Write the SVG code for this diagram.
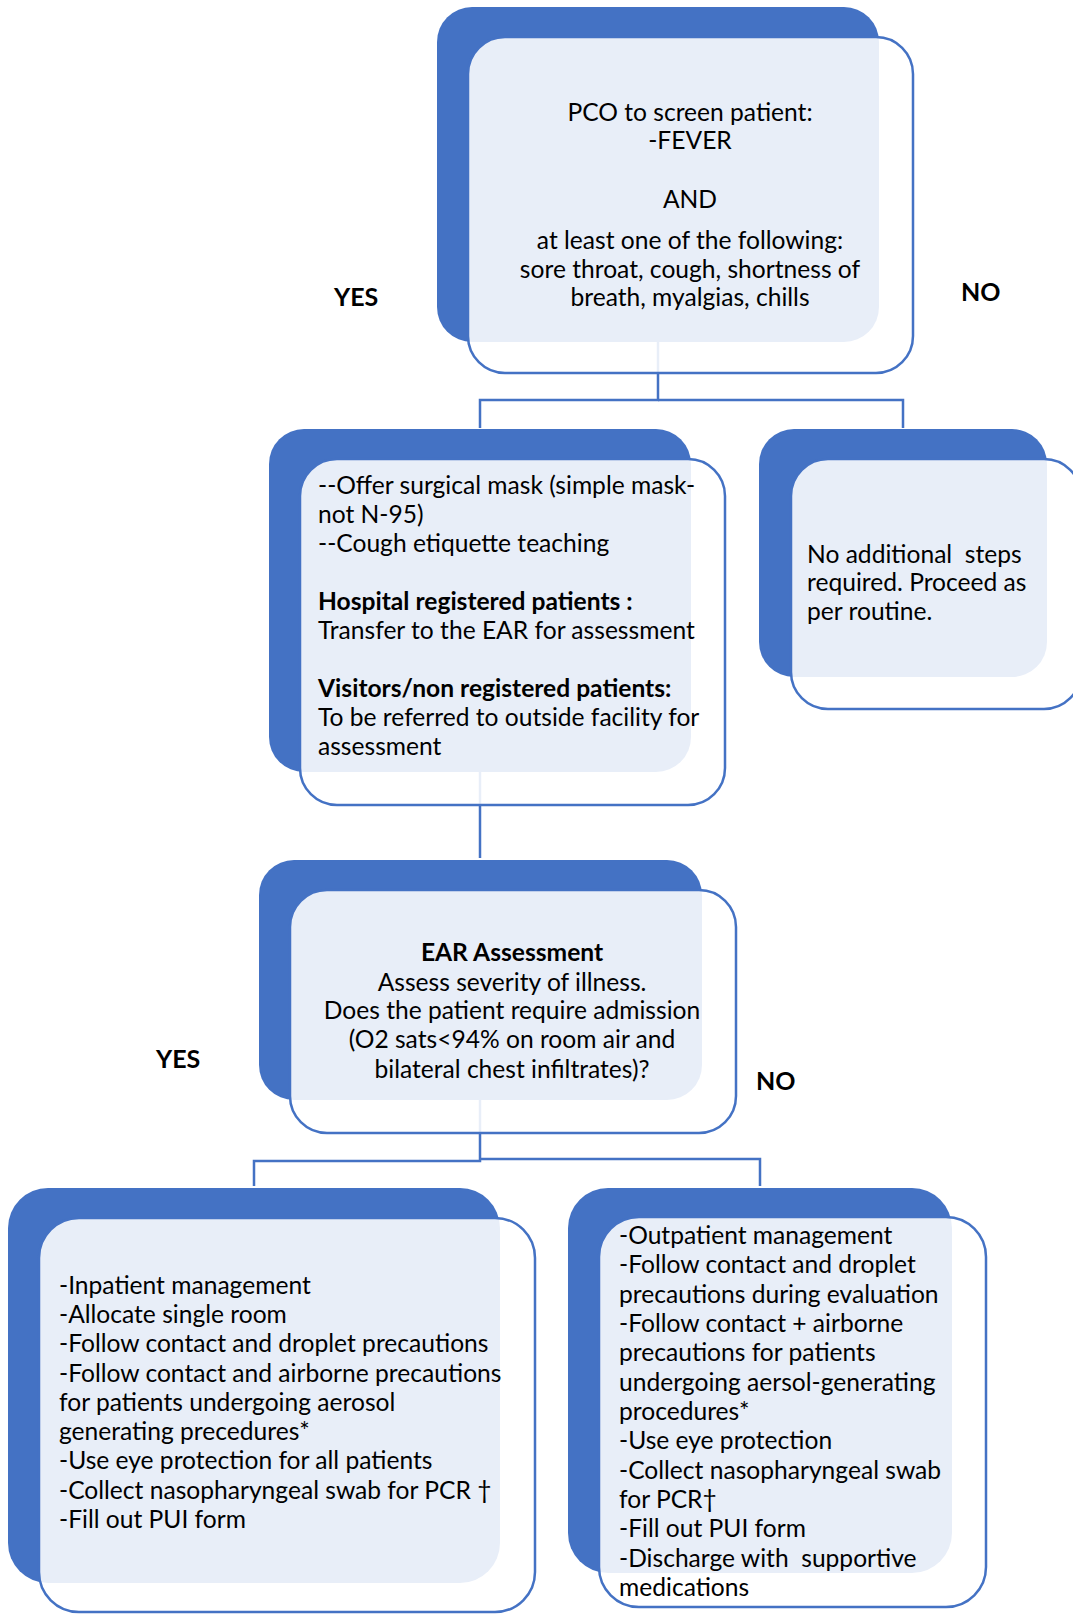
<svg xmlns="http://www.w3.org/2000/svg" width="1073" height="1615" viewBox="0 0 1073 1615">
<style>
.bg{fill:#4472C4}
.box{fill:#FFFFFF;fill-opacity:0.88;stroke:#4472C4;stroke-width:2.5}
.conn{fill:none;stroke:#4472C4;stroke-width:2.5}
.t{font-family:Lato,"Liberation Sans",sans-serif;font-size:24.6px;fill:#000;white-space:pre}
.c{text-anchor:middle}
.b{font-weight:bold}
.lbl{font-family:Lato,"Liberation Sans",sans-serif;font-size:25px;font-weight:bold;fill:#000}
</style>
<rect width="1073" height="1615" fill="#fff"/>
<g id="connectors">
<path class="conn" d="M658,190 V400 H480 V428"/>
<path class="conn" d="M658,400 H903 V428"/>
<path class="conn" d="M480,620 V858"/>
<path class="conn" d="M480,1000 V1161 H254 V1186"/>
<path class="conn" d="M480,1159 H760 V1186"/>
</g>
<g id="screen">
<rect class="bg" x="437" y="7" width="442" height="335" rx="35"/>
<rect class="box" x="468" y="37" width="445" height="336" rx="37"/>
<text class="t c" x="690" y="121">PCO to screen patient:</text>
<text class="t c" x="690" y="149">-FEVER</text>
<text class="t c" x="690" y="208">AND</text>
<text class="t c" x="690" y="249">at least one of the following:</text>
<text class="t c" x="690" y="278">sore throat, cough, shortness of</text>
<text class="t c" x="690" y="306">breath, myalgias, chills</text>
</g>
<g id="yes-mask">
<rect class="bg" x="269" y="429" width="422" height="343" rx="35"/>
<rect class="box" x="300" y="459" width="425" height="346" rx="37"/>
<text class="t" x="318" y="494">--Offer surgical mask (simple mask-</text>
<text class="t" x="318" y="523">not N-95)</text>
<text class="t" x="318" y="552">--Cough etiquette teaching</text>
<text class="t b" x="318" y="610">Hospital registered patients :</text>
<text class="t" x="318" y="639">Transfer to the EAR for assessment</text>
<text class="t b" x="318" y="697">Visitors/non registered patients:</text>
<text class="t" x="318" y="726">To be referred to outside facility for</text>
<text class="t" x="318" y="755">assessment</text>
</g>
<g id="no-steps">
<rect class="bg" x="759" y="429" width="288" height="248" rx="35"/>
<rect class="box" x="791" y="459" width="290" height="250" rx="37"/>
<text class="t" x="807" y="563">No additional  steps</text>
<text class="t" x="807" y="591">required. Proceed as</text>
<text class="t" x="807" y="620">per routine.</text>
</g>
<g id="ear">
<rect class="bg" x="259" y="860" width="443" height="240" rx="35"/>
<rect class="box" x="290" y="890" width="446" height="243" rx="37"/>
<text class="t c b" x="512" y="961">EAR Assessment</text>
<text class="t c" x="512" y="991">Assess severity of illness.</text>
<text class="t c" x="512" y="1019">Does the patient require admission</text>
<text class="t c" x="512" y="1048">(O2 sats&lt;94% on room air and</text>
<text class="t c" x="512" y="1078">bilateral chest infiltrates)?</text>
</g>
<g id="inpatient">
<rect class="bg" x="8" y="1188" width="492" height="395" rx="40"/>
<rect class="box" x="39" y="1218" width="496" height="394" rx="40"/>
<text class="t" x="59" y="1294">-Inpatient management</text>
<text class="t" x="59" y="1323">-Allocate single room</text>
<text class="t" x="59" y="1352">-Follow contact and droplet precautions</text>
<text class="t" x="59" y="1382">-Follow contact and airborne precautions</text>
<text class="t" x="59" y="1411">for patients undergoing aerosol</text>
<text class="t" x="59" y="1440">generating precedures*</text>
<text class="t" x="59" y="1469">-Use eye protection for all patients</text>
<text class="t" x="59" y="1499">-Collect nasopharyngeal swab for PCR †</text>
<text class="t" x="59" y="1528">-Fill out PUI form</text>
</g>
<g id="outpatient">
<rect class="bg" x="568" y="1188" width="384" height="385" rx="40"/>
<rect class="box" x="599" y="1217" width="387" height="390" rx="40"/>
<text class="t" x="619" y="1244">-Outpatient management</text>
<text class="t" x="619" y="1273">-Follow contact and droplet</text>
<text class="t" x="619" y="1303">precautions during evaluation</text>
<text class="t" x="619" y="1332">-Follow contact + airborne</text>
<text class="t" x="619" y="1361">precautions for patients</text>
<text class="t" x="619" y="1391">undergoing aersol-generating</text>
<text class="t" x="619" y="1420">procedures*</text>
<text class="t" x="619" y="1449">-Use eye protection</text>
<text class="t" x="619" y="1479">-Collect nasopharyngeal swab</text>
<text class="t" x="619" y="1508">for PCR†</text>
<text class="t" x="619" y="1537">-Fill out PUI form</text>
<text class="t" x="619" y="1567">-Discharge with  supportive</text>
<text class="t" x="619" y="1596">medications</text>
</g>
<g id="labels">
<text class="lbl" x="334" y="306">YES</text>
<text class="lbl" x="961" y="301">NO</text>
<text class="lbl" x="156" y="1068">YES</text>
<text class="lbl" x="756" y="1090">NO</text>
</g>
</svg>
